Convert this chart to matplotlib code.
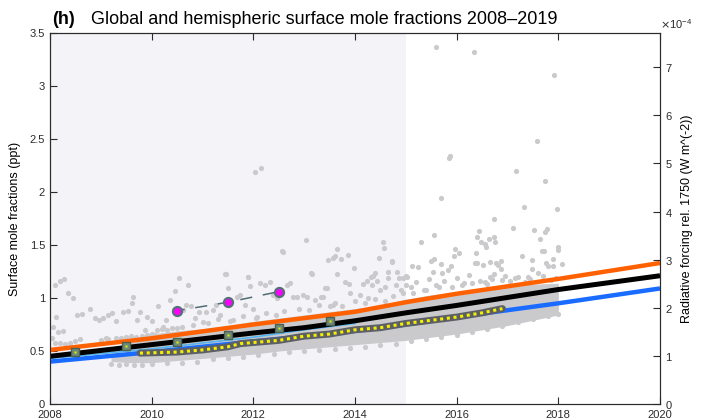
import matplotlib
matplotlib.use("Agg")
import matplotlib.pyplot as plt
from matplotlib.ticker import FormatStrFormatter, ScalarFormatter

plt.rcParams['font.family'] = ['Liberation Sans', 'DejaVu Sans']

# ---------------- data ----------------
shade_years = [2008, 2015]

line_years = [2008, 2010, 2012, 2013, 2014, 2015, 2016, 2018, 2020]
nh_vals = [0.51, 0.62, 0.75, 0.81, 0.87, 0.96, 1.04, 1.18, 1.33]
glob_vals = [0.45, 0.56, 0.67, 0.72, 0.785, 0.86, 0.93, 1.08, 1.21]
sh_vals = [0.40, 0.49, 0.59, 0.64, 0.69, 0.75, 0.82, 0.95, 1.09]

lb_years = [2008, 2010, 2012, 2013, 2014]
lb_vals = [0.43, 0.52, 0.63, 0.70, 0.76]

obs_years = [2009.77, 2010.5, 2011.0, 2011.5, 2011.75, 2012.0, 2012.5, 2013.0, 2013.5,
             2014.0, 2014.5, 2015.0, 2015.5, 2016.0, 2016.5, 2016.9]
obs_vals = [0.48, 0.49, 0.51, 0.54, 0.57, 0.58, 0.60, 0.64, 0.66,
            0.70, 0.72, 0.76, 0.79, 0.82, 0.86, 0.90]

annual_years = [2008.5, 2009.5, 2010.5, 2011.5, 2012.5, 2013.5]
annual_vals = [0.49, 0.55, 0.585, 0.655, 0.72, 0.785]

mag_years = [2010.5, 2011.5, 2012.5]
mag_vals = [0.88, 0.96, 1.06]

band_years = [2009.2, 2009.6, 2010, 2010.5, 2011, 2011.5, 2012, 2012.5, 2013, 2013.5,
              2014, 2014.5, 2015, 2015.5, 2016, 2016.5, 2017, 2017.5, 2018]
band_low = [0.40, 0.39, 0.39, 0.41, 0.43, 0.45, 0.47, 0.50, 0.52, 0.54,
            0.56, 0.58, 0.60, 0.63, 0.66, 0.70, 0.74, 0.79, 0.84]
band_high = [0.50, 0.62, 0.66, 0.69, 0.71, 0.74, 0.78, 0.81, 0.84, 0.87,
             0.90, 0.93, 0.99, 1.03, 1.06, 1.09, 1.11, 1.13, 1.14]

# scattered station points (year, ppt)
pts_x = [
    2015.59, 2016.34, 2017.92, 2017.59, 2015.87, 2015.85, 2017.17, 2017.74, 2012.03, 2012.16,
    2015.69, 2017.32, 2017.97, 2016.73, 2017.10, 2017.53, 2017.77, 2017.74, 2016.43, 2016.40,
    2016.74, 2016.63, 2016.76, 2016.48, 2016.56, 2016.58, 2017.64, 2015.29, 2015.56, 2015.97,
    2015.95, 2016.05, 2016.39, 2017.28, 2017.67, 2017.72, 2017.99, 2018.00, 2017.90, 2018.08,
    2015.49, 2015.56, 2015.70, 2016.40, 2016.66, 2016.77, 2016.82, 2016.87, 2017.48, 2017.76,
    2017.80, 2017.90, 2015.12, 2015.23, 2015.02, 2015.53, 2015.71, 2015.89, 2015.83, 2016.36,
    2016.52, 2016.66, 2016.74, 2016.87, 2017.48, 2017.60,
    2013.04, 2012.58, 2011.46, 2011.89, 2014.56, 2014.58, 2013.65, 2013.60, 2013.56, 2013.47,
    2013.72, 2013.86, 2014.48, 2014.73, 2013.99, 2013.14, 2013.64, 2014.39, 2014.31, 2014.64,
    2014.64, 2014.82, 2014.86, 2014.94, 2015.00, 2008.28, 2010.54,
    2008.10, 2008.20, 2008.36, 2008.46, 2008.12, 2008.62, 2008.54, 2008.79, 2008.89, 2008.97,
    2009.05, 2009.15, 2009.21, 2009.30, 2009.44, 2009.54, 2009.62, 2009.64, 2009.71, 2009.77,
    2009.87, 2009.90, 2010.00, 2010.13, 2010.07,
    2008.03, 2008.10, 2008.20, 2008.30, 2008.40, 2008.50, 2008.60, 2008.15, 2008.25, 2008.05,
    2009.00, 2009.10, 2009.15, 2009.30, 2009.40, 2009.50, 2009.60, 2009.70, 2009.80, 2009.90,
    2010.00, 2010.10, 2010.20, 2010.30, 2010.40, 2010.50, 2010.60,
    2010.23, 2010.29, 2010.36, 2010.46, 2010.62, 2010.68, 2010.72, 2010.78, 2010.81, 2010.94,
    2011.07, 2011.20, 2011.27, 2011.34, 2011.44, 2011.50, 2011.60, 2011.67, 2011.74, 2011.84,
    2011.90, 2011.93, 2012.00, 2012.07, 2012.13, 2012.23, 2012.33, 2012.39, 2012.46, 2012.56,
    2012.66, 2012.72, 2012.79, 2012.85, 2012.98, 2013.05, 2013.15, 2013.21, 2013.38, 2013.44,
    2013.57,
    2013.80, 2013.89, 2014.15, 2014.23, 2014.33, 2014.43, 2014.72, 2014.36, 2013.33, 2013.41,
    2013.90, 2014.10, 2014.25, 2014.50, 2014.60, 2014.80, 2014.90, 2013.60, 2013.75, 2014.00,
    2014.20, 2014.40, 2014.60, 2014.75, 2014.95, 2015.00,
    2015.10, 2015.20, 2015.35, 2015.45, 2015.60, 2015.75, 2015.90, 2016.00, 2016.15, 2016.25,
    2016.45, 2016.60, 2016.70, 2016.95, 2017.05, 2017.20, 2017.35, 2017.45, 2017.70, 2017.85,
    2015.15, 2015.40, 2015.65, 2016.10, 2016.30, 2016.55, 2016.90, 2017.15, 2017.40, 2017.95,
    2011.10, 2011.30, 2011.55, 2011.80, 2012.05, 2012.25, 2012.45, 2012.60, 2012.90, 2013.10,
    2013.30, 2013.50, 2010.85, 2011.00,
    2009.20, 2009.35, 2009.50, 2009.65, 2009.80, 2010.00, 2010.30, 2010.60, 2010.90, 2011.20,
    2011.50, 2011.80, 2012.10, 2012.40, 2012.70, 2013.00, 2013.30, 2013.60, 2013.90, 2014.20,
    2014.50, 2014.80, 2015.10, 2015.40, 2015.70, 2016.00, 2016.30, 2016.60, 2016.90, 2017.20,
    2017.50, 2017.80, 2018.00,
]
pts_y = [
    3.37, 3.32, 3.10, 2.48, 2.34, 2.32, 2.20, 2.10, 2.19, 2.23,
    1.94, 1.86, 1.84, 1.75, 1.66, 1.64, 1.65, 1.62, 1.63, 1.58,
    1.58, 1.56, 1.53, 1.53, 1.51, 1.48, 1.56, 1.53, 1.59, 1.46,
    1.40, 1.42, 1.42, 1.40, 1.44, 1.44, 1.48, 1.45, 1.37, 1.32,
    1.35, 1.37, 1.32, 1.33, 1.34, 1.33, 1.31, 1.35, 1.36, 1.33,
    1.30, 1.30, 1.30, 1.29, 1.20, 1.25, 1.24, 1.30, 1.26, 1.33,
    1.31, 1.20, 1.23, 1.27, 1.27, 1.24,
    1.55, 1.43, 1.23, 1.20, 1.53, 1.47, 1.46, 1.40, 1.38, 1.36,
    1.37, 1.41, 1.38, 1.34, 1.28, 1.24, 1.23, 1.24, 1.20, 1.25,
    1.19, 1.25, 1.19, 1.19, 1.21, 1.18, 1.19,
    1.12, 1.16, 1.05, 1.00, 0.82, 0.85, 0.84, 0.90, 0.81, 0.79,
    0.81, 0.84, 0.86, 0.78, 0.87, 0.88, 0.95, 1.01, 0.79, 0.87,
    0.70, 0.82, 0.78, 0.92, 0.65,
    0.62, 0.58, 0.58, 0.57, 0.58, 0.59, 0.61, 0.68, 0.69, 0.73,
    0.60, 0.62, 0.61, 0.62, 0.62, 0.63, 0.64, 0.63, 0.64, 0.65,
    0.66, 0.70, 0.71, 0.70, 0.72, 0.72, 0.73,
    0.73, 0.79, 0.98, 1.07, 0.89, 0.93, 1.12, 0.92, 0.75, 0.87,
    0.87, 0.89, 0.93, 0.84, 1.23, 1.09, 0.79, 1.01, 1.03, 0.93,
    1.20, 1.11, 0.90, 0.82, 1.14, 1.12, 1.15, 1.03, 1.00, 1.44,
    1.12, 1.14, 1.01, 1.01, 1.03, 1.01, 1.23, 0.98, 1.01, 1.09,
    0.93,
    1.15, 1.13, 1.13, 1.16, 1.12, 1.16, 1.35, 1.21, 1.01, 1.09,
    1.05, 1.03, 1.00, 1.08, 1.10, 1.12, 1.08, 0.95, 0.92, 0.97,
    0.95, 0.99, 0.97, 1.02, 1.05, 1.12,
    1.10, 1.15, 1.08, 1.18, 1.12, 1.16, 1.10, 1.19, 1.14, 1.22,
    1.16, 1.13, 1.18, 1.21, 1.16, 1.20, 1.15, 1.18, 1.21, 1.17,
    1.05, 1.08, 1.10, 1.12, 1.14, 1.15, 1.17, 1.19, 1.20, 1.19,
    0.76, 0.80, 0.78, 0.83, 0.81, 0.86, 0.84, 0.88, 0.90, 0.89,
    0.93, 0.92, 0.81, 0.77,
    0.38, 0.37, 0.38, 0.37, 0.37, 0.38, 0.39, 0.39, 0.40, 0.42,
    0.43, 0.44, 0.46, 0.47, 0.49, 0.50, 0.51, 0.52, 0.53, 0.54,
    0.56, 0.57, 0.59, 0.61, 0.63, 0.65, 0.68, 0.71, 0.74, 0.77,
    0.80, 0.83, 0.85,
]

left_ticks = [0, 0.5, 1, 1.5, 2, 2.5, 3, 3.5]
right_ticks = [0, 1, 2, 3, 4, 5, 6, 7]
x_ticks = [2008, 2010, 2012, 2014, 2016, 2018, 2020]
rf_per_ppt = 2.203e-4  # radiative forcing per ppt (right axis scale)

# ---------------- figure ----------------
fig = plt.figure(figsize=(7.12, 4.2), dpi=100)
ax = fig.add_axes([50/712, 16/420, 610/712, 371/420])
ax.set_xlim(2008, 2020)
ax.set_ylim(0, 3.5)

ax.axvspan(shade_years[0], shade_years[1], color='#f3f3f8', zorder=0, lw=0)

grey = '#cacacd'
ax.fill_between(band_years, band_low, band_high, color=grey, lw=0, zorder=1)
ax.scatter(pts_x, pts_y, s=14, color=grey, lw=0, zorder=1.5)

ax.plot(line_years, nh_vals, color='#ff6000', lw=3.2, zorder=3, solid_capstyle='butt')
ax.plot(line_years, sh_vals, color='#1a6bff', lw=3.2, zorder=3, solid_capstyle='butt')
ax.plot(lb_years, lb_vals, color='#55b4f0', lw=1.2, zorder=3)
ax.plot(line_years, glob_vals, color='black', lw=3.6, zorder=4, solid_capstyle='butt')

ax.plot(obs_years, obs_vals, color='#5c6066', lw=5, zorder=5, solid_capstyle='round')
ax.plot(obs_years, obs_vals, color='#f5f000', lw=2.2, ls=(0, (1, 1.2)), zorder=6)

ax.plot(annual_years, annual_vals, ls='none', marker='s', ms=5.5, mfc='#6e8a78',
        mec='#4b6050', mew=1, zorder=7)
ax.plot(annual_years, annual_vals, ls='none', marker='s', ms=1.8, mfc='#e6f000',
        mec='none', zorder=8)

ax.plot(mag_years, mag_vals, color='#4f6d73', lw=1.1, ls=(3, (8, 7)), zorder=6)
ax.plot(mag_years, mag_vals, ls='none', marker='o', ms=6.5, mfc='#ff00ff', mec='#56707a',
        mew=1.6, zorder=7)

spine_c = '#2b2b2b'
ax.set_xticks(x_ticks)
ax.set_yticks(left_ticks)
ax.yaxis.set_major_formatter(FormatStrFormatter('%g'))
ax.tick_params(direction='in', length=5, width=0.8, labelsize=8, colors=spine_c,
               top=True, right=False)
ax.tick_params(axis='x', pad=4.3)
for s in ax.spines.values():
    s.set_color(spine_c)
    s.set_linewidth(0.8)
ax.set_ylabel('Surface mole fractions (ppt)', fontsize=9, labelpad=6)

ax2 = ax.twinx()
ax2.set_ylim(0, 3.5 * rf_per_ppt)
ax2.set_yticks([t * 1e-4 for t in right_ticks])
fmt = ScalarFormatter(useMathText=True)
fmt.set_powerlimits((-3, 3))
ax2.yaxis.set_major_formatter(fmt)
ax2.tick_params(direction='in', length=5, width=0.8, labelsize=8, colors=spine_c)
off = ax2.yaxis.get_offset_text()
off.set_fontsize(8)
off.set_horizontalalignment('left')
for s in ax2.spines.values():
    s.set_color(spine_c)
    s.set_linewidth(0.8)
ax2.set_ylabel('Radiative forcing rel. 1750 (W m^(-2))', fontsize=9, labelpad=6)

fig.text(52/712, 1 - 20/420, '(h)', fontsize=13, fontweight='bold', va='center', ha='left')
fig.text(91/712, 1 - 20/420, 'Global and hemispheric surface mole fractions 2008–2019',
         fontsize=13, va='center', ha='left')

fig.savefig('out.png', dpi=100)
